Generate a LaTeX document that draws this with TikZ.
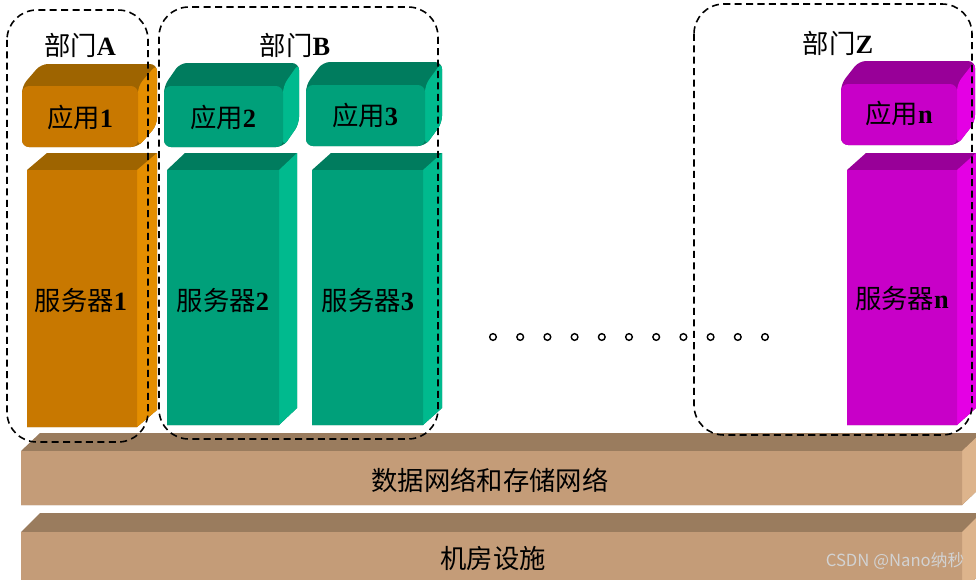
\documentclass[tikz,border=0pt]{standalone}
\usepackage{fontspec}
\setmainfont{Liberation Serif}
\newfontfamily\cjk{Noto Sans CJK SC}
\usetikzlibrary{positioning}

\definecolor{orgfront}{HTML}{C87800}
\definecolor{orgtop}{HTML}{9E6400}
\definecolor{orgside}{HTML}{E48E00}
\definecolor{tealfront}{HTML}{00A07A}
\definecolor{tealtop}{HTML}{007C5E}
\definecolor{tealside}{HTML}{00BA8E}
\definecolor{magfront}{HTML}{C800C8}
\definecolor{magtop}{HTML}{980098}
\definecolor{magside}{HTML}{E400E4}
\definecolor{tanfront}{HTML}{C49C78}
\definecolor{tantop}{HTML}{9A7C5E}
\definecolor{tanside}{HTML}{DDB48C}

% front face at (x,y) with width w, height h, depth dx,dy, colour prefix, corner
\newcommand{\blockbox}[8]{%
  \fill[#7top, rounded corners=#8] (#1,#2+#4) -- (#1,#2) -- (#1+#5,#2-#6) -- (#1+#3+#5,#2-#6) -- (#1+#3+#5,#2+#4-#6) -- (#1+#3,#2+#4) -- cycle;
  \fill[#7side, rounded corners=#8] (#1+#3,#2) -- (#1+#3+#5,#2-#6) -- (#1+#3+#5,#2+#4-#6) -- (#1+#3,#2+#4) -- cycle;
  \fill[#7front, rounded corners=#8] (#1,#2) rectangle (#1+#3,#2+#4);
}
\newcommand{\zh}[1]{{\cjk #1}}

\tikzset{
  lbl/.style={font=\fontsize{15}{18}\selectfont, inner sep=0pt},
  grp/.style={draw, dash pattern=on 4pt off 2.5pt, line width=0.9pt, rounded corners=17pt},
  ring/.style={draw, line width=0.8pt}
}

\begin{document}
\begin{tikzpicture}[x=0.02cm, y=-0.02cm]
  \clip (0,0) rectangle (976,579);
  \fill[white] (0,0) rectangle (976,579);

  \blockbox{21}{451}{941}{54}{19}{18}{tan}{0.01pt}
  \blockbox{21}{532}{941}{60}{19}{19}{tan}{0.01pt}

  \blockbox{22}{86}{116}{61}{19}{22}{org}{4pt}
  \blockbox{27}{170}{110}{257}{20}{17}{org}{0.01pt}
  \blockbox{164}{86}{119}{61}{16}{23}{teal}{4pt}
  \blockbox{167}{170}{112}{255}{18}{17}{teal}{0.01pt}
  \blockbox{306}{85}{119}{61}{17}{23}{teal}{4pt}
  \blockbox{312}{170}{111}{255}{19}{17}{teal}{0.01pt}
  \blockbox{841}{84}{116}{61}{18}{23}{mag}{4pt}
  \blockbox{847}{170}{110}{255}{19}{17}{mag}{0.01pt}

  \node[lbl] (app1) at (80,117) {\zh{应用}\textbf{1}};
  \node[lbl] (app2) at (223,117) {\zh{应用}\textbf{2}};
  \node[lbl] (app3) at (365,115) {\zh{应用}\textbf{3}};
  \node[lbl] (appn) at (899,113) {\zh{应用}\textbf{n}};
  \node[lbl] (srv1) at (81,300) {\zh{服务器}\textbf{1}};
  \node[lbl] (srv2) at (223,300) {\zh{服务器}\textbf{2}};
  \node[lbl] (srv3) at (368,300) {\zh{服务器}\textbf{3}};
  \node[lbl] (srvn) at (902,298) {\zh{服务器}\textbf{n}};

  \node[lbl] (net) at (490,480) {\zh{数据网络和存储网络}};
  \node[lbl] (room) at (493,558) {\zh{机房设施}};

  \foreach \i in {0,...,10}
    \draw[ring] (493+27.2*\i,337) circle (1.9pt);

  \draw[grp] (7,10) rectangle (148,442);
  \draw[grp] (159,7) rectangle (438,439);
  \draw[grp] (694,4) rectangle (972,435);

  \node[lbl] (deptA) at (80,45) {\zh{部门}\textbf{A}};
  \node[lbl] (deptB) at (295,45) {\zh{部门}\textbf{B}};
  \node[lbl] (deptZ) at (838,43) {\zh{部门}\textbf{Z}};

  \node[font=\cjk\fontsize{9.5}{11}\selectfont, text=gray!35, inner sep=0pt] (mark) at (895,561) {CSDN @Nano纳秒};
\end{tikzpicture}
\end{document}
